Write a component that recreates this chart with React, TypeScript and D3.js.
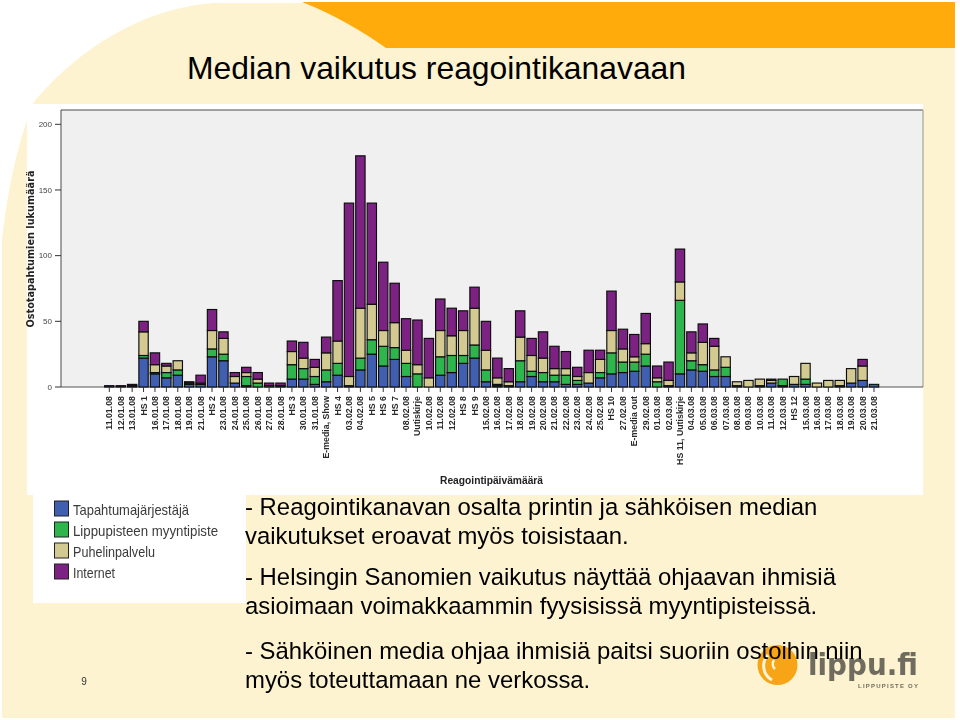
import React from "react";
import * as d3 from "d3";

const categories = ["11.01.08","12.01.08","13.01.08","HS 1","16.01.08","17.01.08","18.01.08","19.01.08","21.01.08","HS 2","23.01.08","24.01.08","25.01.08","26.01.08","27.01.08","28.01.08","HS 3","30.01.08","31.01.08","E-media, Show","HS 4","03.02.08","04.02.08","HS 5","HS 6","HS 7","08.02.08","Uutiskirje","10.02.08","11.02.08","12.02.08","HS 8","HS 9","15.02.08","16.02.08","17.02.08","18.02.08","19.02.08","20.02.08","21.02.08","22.02.08","23.02.08","24.02.08","25.02.08","HS 10","27.02.08","E-media out","29.02.08","01.03.08","02.03.08","HS 11, Uutiskirje","04.03.08","05.03.08","06.03.08","07.03.08","08.03.08","09.03.08","10.03.08","11.03.08","12.03.08","HS 12","15.03.08","16.03.08","17.03.08","18.03.08","19.03.08","20.03.08","21.03.08"];
const tapahtumajarjestaja = [1,0,1,22,10,7,9,2,2,23,20,3,1,0,0,1,6,6,2,4,9,1,13,25,16,21,8,0,0,9,11,18,22,4,1,1,4,8,4,4,2,2,3,7,10,11,12,16,0,1,10,13,12,8,8,1,0,1,3,1,2,2,0,0,1,3,5,2];
const lippupiste = [0,0,0,2,1,4,4,0,0,6,5,0,7,3,0,0,11,8,6,9,9,0,9,11,15,9,10,10,0,14,13,6,10,9,1,0,16,4,7,5,7,3,0,4,16,8,7,9,4,0,56,7,5,5,7,0,0,0,0,5,0,4,0,0,0,0,0,0];
const puhelinpalvelu = [0,0,0,18,6,5,7,1,1,14,12,5,3,3,1,0,10,8,7,13,17,7,38,27,12,19,10,7,7,20,15,19,28,15,5,3,18,12,11,5,5,3,8,10,17,10,4,8,3,4,14,6,17,18,8,3,5,5,2,0,6,12,3,5,4,11,11,0];
const internet = [0,1,1,8,9,2,0,1,6,16,5,3,4,5,2,2,8,12,6,12,46,132,116,77,52,30,24,34,30,24,21,15,16,22,15,10,20,13,20,17,13,7,17,7,30,15,17,23,9,14,25,16,14,6,0,0,0,0,1,0,0,0,0,0,0,0,5,0];
const seriesNames = ["Tapahtumajärjestäjä","Lippupisteen myyntipiste","Puhelinpalvelu","Internet"];
const seriesValues = [tapahtumajarjestaja, lippupiste, puhelinpalvelu, internet];
const seriesColors = ["#3f5fb1","#2fb64e","#d3ca92","#7c2483"];
const yTicks = [0,50,100,150,200];

const bodyLines: [string, number][] = [
  ["- Reagointikanavan osalta printin ja sähköisen median", 515],
  ["vaikutukset eroavat myös toisistaan.", 544],
  ["- Helsingin Sanomien vaikutus näyttää ohjaavan ihmisiä", 585],
  ["asioimaan voimakkaammin fyysisissä myyntipisteissä.", 614],
  ["- Sähköinen media ohjaa ihmisiä paitsi suoriin ostoihin niin", 659],
  ["myös toteuttamaan ne verkossa.", 688],
];

const SANS = "'Liberation Sans', Arial, sans-serif";
const WIDE = "'DejaVu Sans', Verdana, sans-serif";

export default function App() {
  const frame = { left: 61, right: 923, top: 110, bottom: 387 };
  const x = d3.scaleBand<string>().domain(categories).range([103.6, 879.7]).paddingInner(0.18).paddingOuter(0.09);
  const y = d3.scaleLinear().domain([0, 200]).range([frame.bottom, 124.3]);
  const rows = categories.map((c, i) => {
    const r: any = { c };
    seriesNames.forEach((n, k) => (r[n] = seriesValues[k][i]));
    return r;
  });
  const stacked = d3.stack<any>().keys(seriesNames)(rows);

  return (
    <svg width={960} height={720} viewBox="0 0 960 720" style={{ position: "absolute", left: 0, top: 0 }} fontFamily={SANS}>
      <defs>
        <filter id="soft" x="-2%" y="-2%" width="104%" height="104%">
          <feGaussianBlur stdDeviation="0.35" />
        </filter>
      </defs>
      <rect width={960} height={720} fill="#ffffff" />
      <path d="M2,718 L2,240 C7,192 17,145 33,103 C70,58 135,8 215,3 L955,2 L955,718 Z" fill="#fdf3d0" />
      <path d="M302,2 C335,15 365,33 386,48 L955,48 L955,2 Z" fill="#ffab0c" />
      <text x={187} y={79} fontSize={32} fill="#000" textLength={499} lengthAdjust="spacingAndGlyphs">Median vaikutus reagointikanavaan</text>

      <rect x={27} y={104} width={896} height={391} fill="#ffffff" />
      <rect x={33} y={495} width={213} height={108} fill="#ffffff" />

      <g filter="url(#soft)">
        <rect x={frame.left} y={frame.top} width={frame.right - frame.left} height={frame.bottom - frame.top} fill="#f0f0f0" />
        <path d={`M${frame.left},${frame.bottom} V${frame.top} H${frame.right}`} fill="none" stroke="#4a4a4a" strokeWidth={1} />
        <path d={`M${frame.right},${frame.top} V${frame.bottom}`} fill="none" stroke="#b5b5a8" strokeWidth={1.5} />
        <path d={`M${frame.left},${frame.bottom} H${frame.right}`} fill="none" stroke="#555" strokeWidth={1} />

        {yTicks.map((t) => (
          <g key={t}>
            <line x1={55} x2={frame.left} y1={y(t)} y2={y(t)} stroke="#333" strokeWidth={1} />
            <text x={52} y={y(t) + 2.8} fontSize={8} textAnchor="end" fill="#444">{t}</text>
          </g>
        ))}

        {stacked.map((s, k) => (
          <g key={s.key}>
            {s.filter((d) => d[1] > d[0]).map((d) => (
              <rect
                key={d.data.c}
                x={x(d.data.c)}
                y={y(d[1])}
                width={x.bandwidth()}
                height={y(d[0]) - y(d[1])}
                fill={seriesColors[k]}
                stroke="#0c0c0c"
                strokeWidth={1.15}
              />
            ))}
          </g>
        ))}

        {categories.map((c) => {
          const cx = (x(c) as number) + x.bandwidth() / 2;
          return (
            <g key={c}>
              <line x1={cx} x2={cx} y1={frame.bottom} y2={392} stroke="#333" strokeWidth={1} />
              <text transform={`translate(${cx + 3},396) rotate(-90)`} fontSize={8.8} fontWeight={700} textAnchor="end" fill="#2a2a2a">{c}</text>
            </g>
          );
        })}

        <text transform="translate(33.5,249) rotate(-90)" fontFamily={WIDE} fontSize={9.6} fontWeight={700} textAnchor="middle" fill="#222" textLength={157} lengthAdjust="spacingAndGlyphs">Ostotapahtumien lukumäärä</text>
        <text x={491.5} y={484} fontSize={11} fontWeight={700} textAnchor="middle" fill="#222" textLength={103} lengthAdjust="spacingAndGlyphs">Reagointipäivämäärä</text>

        {seriesNames.map((n, k) => (
          <g key={n}>
            <rect x={54.5} y={501 + k * 21} width={14} height={15} fill={seriesColors[k]} stroke="#222" strokeWidth={1} />
            <text x={73} y={515 + k * 21} fontSize={14.5} fill="#3a3a3a" textLength={[116, 145, 82, 42][k]} lengthAdjust="spacingAndGlyphs">{n}</text>
          </g>
        ))}
      </g>

      <text x={84} y={685} fontSize={10} textAnchor="middle" fill="#333">9</text>

      <g>
        <circle cx={777.5} cy={665} r={20} fill="#f7a416" />
        <path d="M768,655 A16,16 0 0 0 772,680" fill="none" stroke="#fff5dc" strokeWidth={3} />
        <path d="M774,660 A7,7 0 0 0 775,669" fill="none" stroke="#fff5dc" strokeWidth={2.5} />
        <text x={808} y={675} fontFamily={WIDE} fontSize={30} fontWeight={700} fill="#6f6b5f" textLength={110} lengthAdjust="spacingAndGlyphs">lippu.fi</text>
        <text x={858} y={688} fontSize={6} fontWeight={700} fill="#6f6b5f" textLength={60}>LIPPUPISTE OY</text>
      </g>

      {bodyLines.map(([t, by]) => (
        <text key={by} x={245} y={by} fontSize={23.9} fill="#000">{t}</text>
      ))}
    </svg>
  );
}
